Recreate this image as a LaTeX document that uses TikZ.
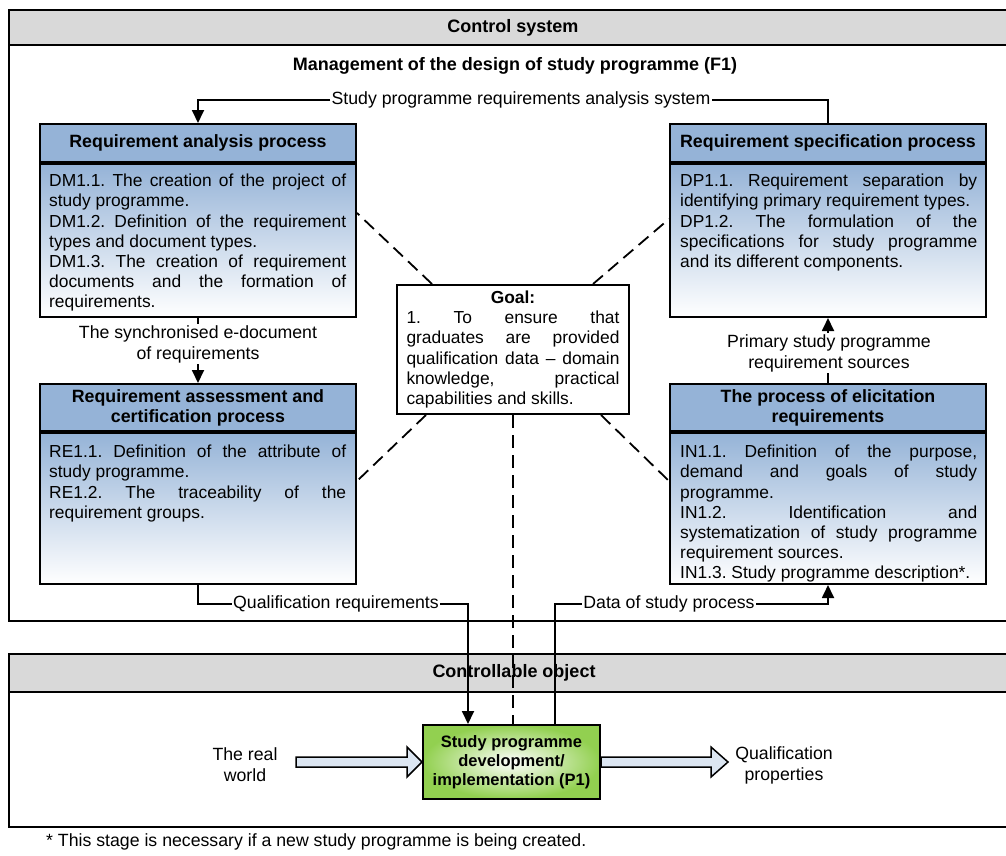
\documentclass[tikz,border=0pt]{standalone}
\usepackage{fontspec}
\setmainfont{Liberation Sans}
\usetikzlibrary{calc,arrows.meta}
\definecolor{hdrblue}{HTML}{95B3D7}
\definecolor{bandgray}{HTML}{D9D9D9}
\definecolor{pgreen}{HTML}{92D050}
\definecolor{arrowfill}{HTML}{DCE6F2}
\tikzset{
 band/.style={draw=black, line width=2pt, fill=bandgray},
 frame/.style={draw=black, line width=2pt},
 hdr/.style={draw=black, line width=2pt, fill=hdrblue, minimum width=316pt, inner sep=0pt, align=center, font=\bfseries\fontsize{17.8}{20}\selectfont},
 bodybox/.style={draw=black, line width=2pt, top color=hdrblue, bottom color=white, minimum width=316pt, inner sep=0pt},
 loosebreak/.style={execute at begin node={\frenchspacing\tolerance=10000\hbadness=10000\emergencystretch=0pt}},
 bodytext/.style={anchor=north west, inner sep=0pt, text width=297pt, align=justify, loosebreak, font=\fontsize{17.4}{20.1}\selectfont},
 goalbox/.style={draw=black, line width=2pt, fill=white, minimum width=232pt, minimum height=129pt, inner xsep=9.5pt, inner ysep=0pt, text width=213pt, align=justify, loosebreak, font=\fontsize{17.4}{20.2}\selectfont},
 procbox/.style={draw=black, line width=2pt, inner color=white, outer color=pgreen, minimum width=177pt, minimum height=74pt, inner sep=0pt, align=center, font=\bfseries\fontsize{16.5}{19}\selectfont},
 conn/.style={line width=1.8pt, -{Triangle[length=13pt,width=12pt]}},
 plainconn/.style={line width=1.8pt},
 lbl/.style={fill=white, inner sep=1pt, font=\fontsize{17.7}{21}\selectfont, align=center},
 dashline/.style={line width=1.8pt, dash pattern=on 13pt off 7pt},
 title/.style={font=\bfseries\fontsize{18}{20}\selectfont},
 hollow/.style={draw=black, line width=1.5pt, fill=arrowfill, line join=miter},
 plaintext/.style={font=\fontsize{17.7}{21}\selectfont, align=center},
}
\begin{document}
\begin{tikzpicture}[x=1pt,y=-1pt]
\useasboundingbox (0,0) rectangle (1006,855);
% frames
\draw[frame] (9,10) rectangle (1030,621);
\draw[band] (9,10) rectangle (1030,45);
\node[title] (cs) at (513,27.5) {Control system};
\node[title] (mg) at (515,66) {Management of the design of study programme (F1)};
\draw[frame] (9,654) rectangle (1030,827);
\draw[band] (9,654) rectangle (1030,692);
\node[title] (co) at (514,673) {Controllable object};
% boxes
\node[hdr, minimum height=38pt] (ra) at (198,143) {Requirement analysis process};
\node[bodybox, minimum height=153pt, anchor=north] (rab) at (ra.south) {};
\node[bodytext] (rat) at ($(rab.north west)+(10,11)$) {DM1.1. The creation of the project of\linebreak study programme.\par DM1.2. Definition of the requirement\linebreak types and document types.\par DM1.3. The creation of requirement\linebreak documents and the formation of\linebreak requirements.};
\node[hdr, minimum height=38pt] (rs) at (828,143) {Requirement specification process};
\node[bodybox, minimum height=153pt, anchor=north] (rsb) at (rs.south) {};
\node[bodytext] (rst) at ($(rsb.north west)+(11,11)$) {DP1.1. Requirement separation by\linebreak identifying primary requirement types.\par DP1.2. The formulation of the\linebreak specifications for study programme\linebreak and its different components.};
\node[hdr, minimum height=47pt] (re) at (198,407.5) {Requirement assessment and\\certification process};
\node[bodybox, minimum height=151pt, anchor=north] (reb) at (re.south) {};
\node[bodytext] (ret) at ($(reb.north west)+(10,13)$) {RE1.1. Definition of the attribute of\linebreak study programme.\par RE1.2. The traceability of the\linebreak requirement groups.};
\node[hdr, minimum height=47pt] (in) at (828,407.5) {The process of elicitation\\requirements};
\node[bodybox, minimum height=151pt, anchor=north] (inb) at (in.south) {};
\node[bodytext] (int) at ($(inb.north west)+(11,13)$) {IN1.1. Definition of the purpose,\linebreak demand and goals of study\linebreak programme.\par IN1.2. Identification and\linebreak systematization of study programme\linebreak requirement sources.\par IN1.3. Study programme description*.};
% goal
\node[goalbox] (goal) at (513,349.5) {{\centering\bfseries Goal:\par}1. To ensure that\linebreak graduates are provided\linebreak qualification data – domain\linebreak knowledge, practical\linebreak capabilities and skills.};
% process
\node[procbox] (p1) at (511.5,762) {Study programme\\development/\\implementation (P1)};
\node[plaintext] (rw) at (245,765) {The real\\world};
\node[plaintext] (qp) at (784,765) {Qualification\\properties};
\draw[hollow] ($(p1.west)+(-126,-5)$) -- ($(p1.west)+(-15,-5)$) -- ($(p1.west)+(-15,-15)$) -- (p1.west) -- ($(p1.west)+(-15,15)$) -- ($(p1.west)+(-15,5)$) -- ($(p1.west)+(-126,5)$) -- cycle;
\draw[hollow] ($(p1.east)+(0,-5)$) -- ($(p1.east)+(110,-5)$) -- ($(p1.east)+(110,-15)$) -- ($(p1.east)+(127,0)$) -- ($(p1.east)+(110,15)$) -- ($(p1.east)+(110,5)$) -- ($(p1.east)+(0,5)$) -- cycle;
% dashed links
\draw[dashline] ($(goal.north west)+(36,0)$) -- ($(rab.north east)+(0,50)$);
\draw[dashline] ($(goal.north east)+(-37,0)$) -- ($(rsb.north west)+(0,56)$);
\draw[dashline] ($(goal.south west)+(30,0)$) -- ($(reb.north east)+(0,49)$);
\draw[dashline] ($(goal.south east)+(-29,0)$) -- ($(inb.north west)+(0,49)$);
\draw[dashline] (goal.south) -- (goal.south |- p1.north);
% connectors
\node[lbl] (l1) at (521,100) {Study programme requirements analysis system};
\draw[plainconn] (rs.north) |- (l1.east);
\draw[conn] (l1.west) -| (ra.north);
\draw[conn] (rab.south) -- (re.north);
\node[lbl] (l2) at (198,344) {The synchronised e-document\\of requirements};
\draw[conn] (in.north) -- (rsb.south);
\node[lbl] (l3) at (829,353) {Primary study programme\\requirement sources};
\coordinate (q1) at (468,604);
\draw[conn] (reb.south) |- (q1) -- (q1 |- p1.north);
\node[lbl] (l4) at (336,604) {Qualification requirements};
\coordinate (d1) at (555,604);
\draw[conn] (d1 |- p1.north) -- (d1) -| (inb.south);
\node[lbl] (l5) at (669,604) {Data of study process};
% footnote
\node[anchor=west, inner sep=0pt, font=\fontsize{17.7}{20}\selectfont] (fn) at (46,842) {* This stage is necessary if a new study programme is being created.};
\end{tikzpicture}
\end{document}
